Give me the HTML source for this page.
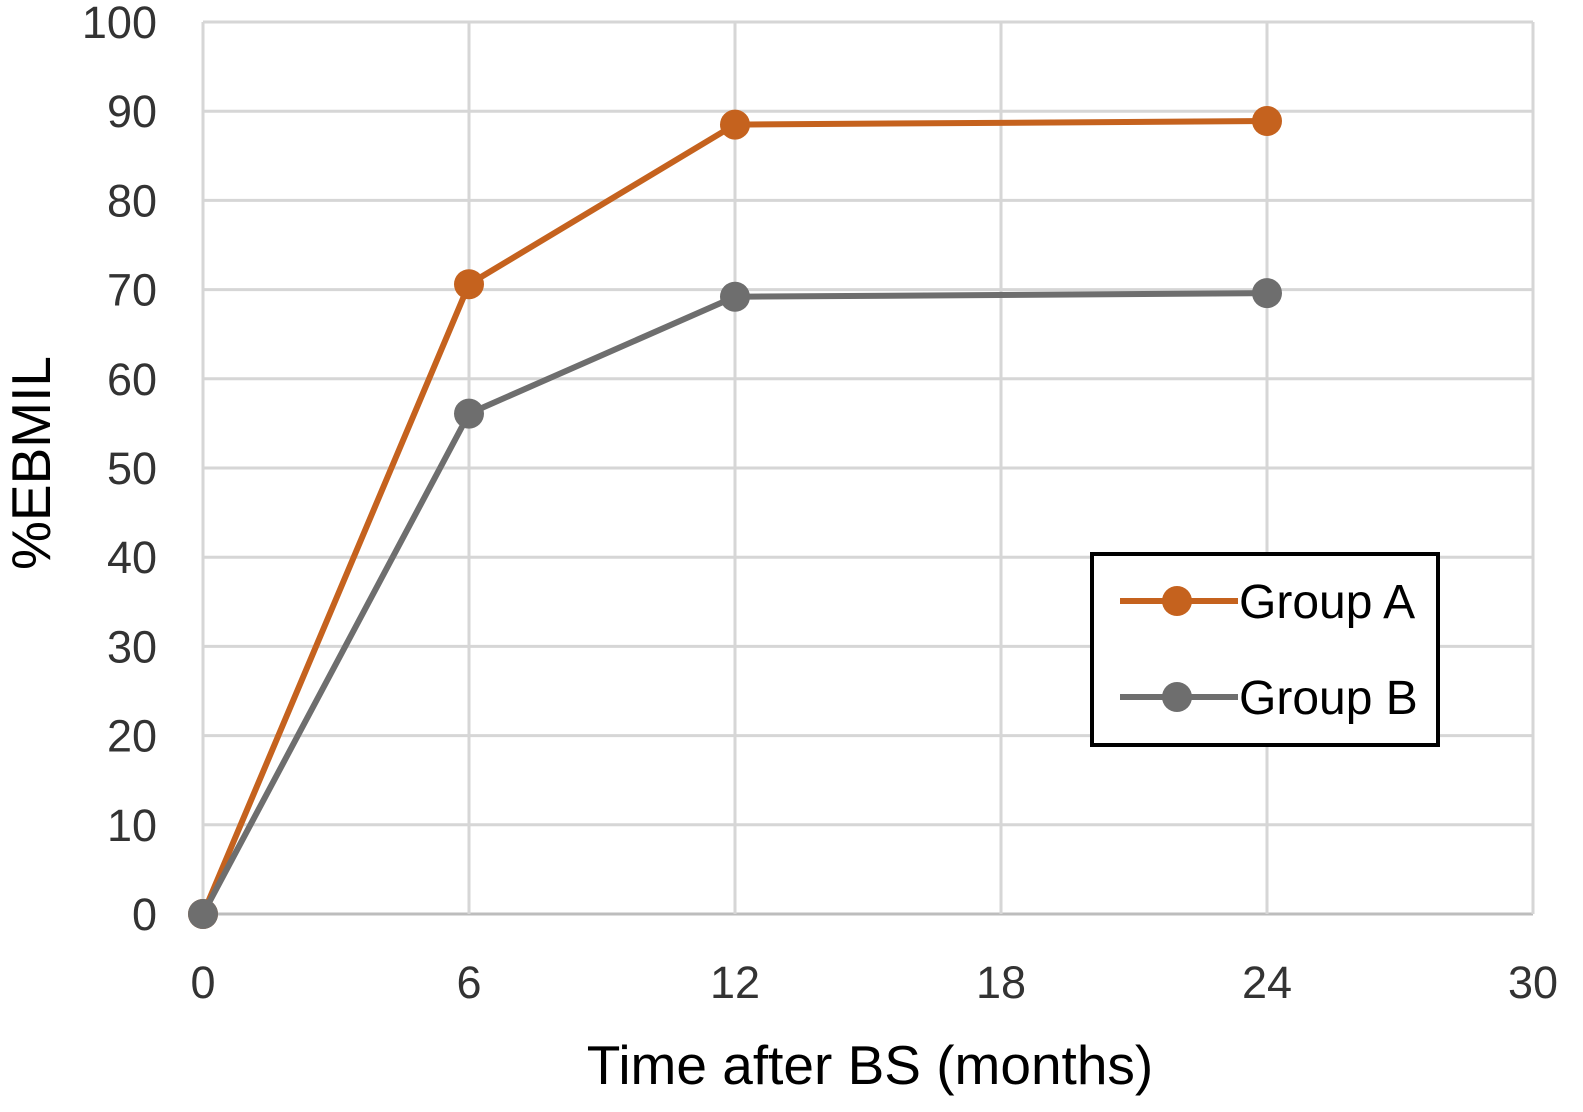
<!DOCTYPE html>
<html><head><meta charset="utf-8"><style>
body{margin:0;background:#fff;}
svg{display:block;font-family:"Liberation Sans",sans-serif;}
</style></head><body>
<svg id="chart" width="1583" height="1112"></svg>
<script>
const xTicks=[0,6,12,18,24,30];
const yTicks=[0,10,20,30,40,50,60,70,80,90,100];
const months=[0,6,12,24];
const groupA=[0,70.6,88.5,88.9];
const groupB=[0,56.1,69.2,69.6];
const svg=document.getElementById('chart');
const NS='http://www.w3.org/2000/svg';
const X=v=>203+v*(1533-203)/30;
const Y=v=>914-v*(914-22)/100;
function el(t,a,p){const e=document.createElementNS(NS,t);for(const k in a)e.setAttribute(k,a[k]);(p||svg).appendChild(e);return e;}
const grid=el('g',{});


yTicks.forEach(v=>{el('line',{x1:X(0),x2:X(30),y1:Y(v),y2:Y(v),stroke:v===0?'#bdbdbd':'#d6d6d6','stroke-width':3},grid);
 const t=el('text',{x:157,y:Y(v)+16,'text-anchor':'end','font-size':45,fill:'#333'});t.textContent=v;
 
 });
xTicks.forEach(v=>{el('line',{x1:X(v),x2:X(v),y1:Y(0),y2:Y(100),stroke:'#d6d6d6','stroke-width':3},grid);
 const t=el('text',{x:X(v),y:998,'text-anchor':'middle','font-size':45,fill:'#333'});t.textContent=v;
 
 });
function series(vals,color,name){
 const g=el('g',{});
 
 
 el('polyline',{points:vals.map((v,i)=>X(months[i])+','+Y(v)).join(' '),fill:'none',stroke:color,'stroke-width':6},g);
 vals.forEach((v,i)=>{const c=el('circle',{cx:X(months[i]),cy:Y(v),r:15,fill:color},g);
  
  });
}
series(groupA,'#c5621e','series-group-a');
series(groupB,'#6e6e6e','series-group-b');
const xt=el('text',{x:870,y:1084,'text-anchor':'middle','font-size':55,fill:'#000'});xt.textContent='Time after BS (months)';


const yt=el('text',{x:0,y:0,'text-anchor':'middle','font-size':55,fill:'#000',transform:'translate(50,463) rotate(-90)'});yt.textContent='%EBMIL';


const lg=el('g',{});


el('rect',{x:1092,y:554,width:346,height:191,fill:'#fff',stroke:'#000','stroke-width':4},lg);
[['Group A','#c5621e',601],['Group B','#6e6e6e',697]].forEach(([n,c,y])=>{
 const g=el('g',{},lg);
 
 
 el('line',{x1:1120,x2:1238,y1:y,y2:y,stroke:c,'stroke-width':6},g);
 el('circle',{cx:1177,cy:y,r:15,fill:c},g);
 const t=el('text',{x:1239,y:y+17,'font-size':48,fill:'#000'},g);t.textContent=n;
});
</script>
</body></html>
